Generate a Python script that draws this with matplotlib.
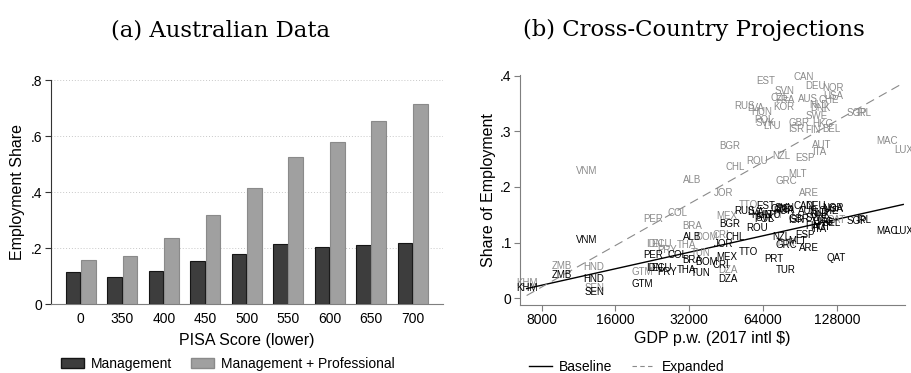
import matplotlib
matplotlib.use("Agg")
import matplotlib.pyplot as plt
import numpy as np
from matplotlib.patches import Patch
from matplotlib.lines import Line2D
from matplotlib.ticker import FuncFormatter

plt.rcParams['font.family'] = ['Liberation Sans', 'DejaVu Sans']

# ---- panel (a): Australian data ----
pisa_cut = ["0", "350", "400", "450", "500", "550", "600", "650", "700"]
management = [0.114, 0.098, 0.118, 0.153, 0.179, 0.214, 0.203, 0.210, 0.218]
mgmt_prof = [0.158, 0.171, 0.237, 0.317, 0.415, 0.524, 0.580, 0.653, 0.716]

# ---- panel (b): cross-country projections ----
countries = ["KHM", "ZMB", "VNM", "HND", "SEN", "GTM", "IDN", "ECU", "PRY", "PER",
             "COL", "THA", "ALB", "BRA", "TUN", "DOM", "CRI", "JOR", "MEX", "DZA",
             "BGR", "CHL", "RUS", "TTO", "LVA", "ROU", "HUN", "POL", "SVK", "EST",
             "LTU", "PRT", "CZE", "NZL", "KOR", "SVN", "FRA", "TUR", "GRC", "ISR",
             "MLT", "GBR", "CAN", "ESP", "AUS", "ARE", "FIN", "DEU", "SWE", "NLD",
             "ITA", "DNK", "AUT", "HKG", "CHE", "BEL", "NOR", "USA", "QAT", "SGP",
             "IRL", "MAC", "LUX"]
gdp_pw = [6950, 9660, 12200, 13000, 13200, 20550, 23000, 24700, 26100, 22850,
          28800, 31100, 32800, 32900, 35500, 37500, 43200, 44400, 45700, 45900,
          47000, 49300, 54000, 55900, 59500, 60600, 63500, 64300, 65300, 65900,
          69600, 71100, 75200, 75800, 77600, 78400, 79000, 79600, 79800, 87500,
          88300, 89900, 93400, 95200, 97900, 98200, 102600, 104600, 106200, 107800,
          108600, 110000, 111400, 112000, 118300, 122000, 123000, 124300, 127500, 155000,
          165000, 205800, 239000]
baseline = [0.018, 0.041, 0.104, 0.035, 0.012, 0.025, 0.054, 0.054, 0.047, 0.077,
            0.078, 0.050, 0.111, 0.069, 0.045, 0.066, 0.059, 0.097, 0.075, 0.034,
            0.133, 0.111, 0.156, 0.084, 0.155, 0.126, 0.150, 0.143, 0.145, 0.165,
            0.150, 0.070, 0.160, 0.111, 0.156, 0.163, 0.158, 0.050, 0.096, 0.141,
            0.103, 0.143, 0.166, 0.114, 0.157, 0.090, 0.130, 0.165, 0.145, 0.153,
            0.125, 0.150, 0.128, 0.137, 0.156, 0.135, 0.163, 0.160, 0.072, 0.138,
            0.140, 0.121, 0.120]
expanded = [0.027, 0.058, 0.228, 0.057, 0.019, 0.048, 0.097, 0.097, 0.087, 0.142,
            0.153, 0.095, 0.212, 0.129, 0.081, 0.110, 0.114, 0.189, 0.147, 0.051,
            0.273, 0.235, 0.345, 0.167, 0.342, 0.247, 0.335, 0.320, 0.315, 0.390,
            0.309, 0.150, 0.360, 0.256, 0.343, 0.373, 0.357, 0.100, 0.210, 0.304,
            0.224, 0.315, 0.397, 0.252, 0.358, 0.189, 0.303, 0.382, 0.328, 0.348,
            0.262, 0.342, 0.276, 0.313, 0.357, 0.304, 0.378, 0.364, 0.140, 0.333,
            0.333, 0.282, 0.267]
gdp_ticks = [8000, 16000, 32000, 64000, 128000]

DARK = '#3d3d3d'
LIGHT = '#a0a0a0'
GREY_TXT = '#8a8a8a'
AX_COL = '#7f7f7f'


def stata_fmt(v, pos):
    s = f"{v:.1f}".rstrip('0').rstrip('.')
    if s.startswith('0.'):
        s = s[1:]
    return s


fig = plt.figure(figsize=(9.12, 3.73), dpi=100)

# left panel
ax1 = fig.add_axes([51 / 912, 1 - 304 / 373, 392 / 912, 224 / 373])
xpos = np.arange(len(pisa_cut))
ax1.bar(xpos - 0.185, management, width=0.35, color=DARK, edgecolor='#151515', linewidth=0.8, zorder=3)
ax1.bar(xpos + 0.185, mgmt_prof, width=0.36, color=LIGHT, edgecolor='#8a8a8a', linewidth=0.8, zorder=3)
ax1.set_xlim(-0.72, 8.73)
ax1.set_ylim(0, 0.8)
ax1.set_yticks([0, 0.2, 0.4, 0.6, 0.8])
ax1.yaxis.set_major_formatter(FuncFormatter(stata_fmt))
ax1.set_xticks(xpos)
ax1.set_xticklabels(pisa_cut)
ax1.tick_params(axis='x', length=0, labelsize=10, pad=6)
ax1.tick_params(axis='y', length=4, width=0.8, color='#333333', labelsize=10, pad=2)
ax1.grid(axis='y', linestyle=(0, (1, 2)), color='#c8c8c8', linewidth=0.7, zorder=0)
for side in ['top', 'right']:
    ax1.spines[side].set_visible(False)
ax1.spines['left'].set_color('#333333')
ax1.spines['bottom'].set_color(AX_COL)
ax1.set_xlabel("PISA Score (lower)", fontsize=11.5, labelpad=5)
ax1.set_ylabel("Employment Share", fontsize=11.5, labelpad=4)

fig.legend(handles=[Patch(facecolor=DARK, edgecolor='#151515', label='Management'),
                    Patch(facecolor=LIGHT, edgecolor='#8a8a8a', label='Management + Professional')],
           loc='center', bbox_to_anchor=(228 / 912, 1 - 364 / 373), ncol=2, frameon=False,
           fontsize=10, handlelength=1.65, handleheight=0.75, handletextpad=0.5, columnspacing=1.4)

# right panel
ax2 = fig.add_axes([520 / 912, 1 - 305 / 373, 385 / 912, 230 / 373])
ax2.set_xscale('log', base=2)
ax2.set_xlim(6530, 243000)
ax2.set_ylim(-0.012, 0.401)

gdp = np.array(gdp_pw, dtype=float)
lx = np.log(gdp)
xs = np.array([gdp.min(), gdp.max()])
b_fit = np.polyfit(lx, baseline, 1)
e_fit = np.polyfit(lx, expanded, 1)
ax2.plot(xs, np.polyval(b_fit, np.log(xs)), color='black', lw=1.0, zorder=2)
ax2.plot(xs, np.polyval(e_fit, np.log(xs)), color=GREY_TXT, lw=0.8, linestyle=(0, (8, 5)), zorder=2)

for c, g, e in zip(countries, gdp_pw, expanded):
    ax2.text(g, e, c, fontsize=7, color=GREY_TXT, ha='center', va='center', clip_on=False, zorder=3)
for c, g, b in zip(countries, gdp_pw, baseline):
    ax2.text(g, b, c, fontsize=7, color='black', ha='center', va='center', clip_on=False, zorder=4)

ax2.set_xticks(gdp_ticks)
ax2.set_xticklabels([str(t) for t in gdp_ticks])
ax2.xaxis.set_minor_locator(matplotlib.ticker.NullLocator())
ax2.set_yticks([0, 0.1, 0.2, 0.3, 0.4])
ax2.yaxis.set_major_formatter(FuncFormatter(stata_fmt))
ax2.tick_params(length=4, width=0.8, color=AX_COL, labelsize=10, pad=2)
for side in ['top', 'right']:
    ax2.spines[side].set_visible(False)
ax2.spines['left'].set_color(AX_COL)
ax2.spines['bottom'].set_color(AX_COL)
ax2.set_xlabel("GDP p.w. (2017 intl $)", fontsize=11.5, labelpad=3)
ax2.set_ylabel("Share of Employment", fontsize=11.5, labelpad=3)

fig.legend(handles=[Line2D([], [], color='black', lw=1.0, label='Baseline'),
                    Line2D([], [], color=GREY_TXT, lw=0.8, linestyle=(0, (4, 3)), label='Expanded')],
           loc='center', bbox_to_anchor=(627 / 912, 1 - 367 / 373), ncol=2, frameon=False,
           fontsize=10, handlelength=1.65, handletextpad=0.5, columnspacing=1.4)

# panel titles
fig.text(221 / 912, 1 - 30 / 373, "(a) Australian Data", family='DejaVu Serif', fontsize=16.4,
         ha='center', va='center')
fig.text(694 / 912, 1 - 30 / 373, "(b) Cross-Country Projections", family='DejaVu Serif', fontsize=16.4,
         ha='center', va='center')

fig.savefig("out.png", dpi=100)
